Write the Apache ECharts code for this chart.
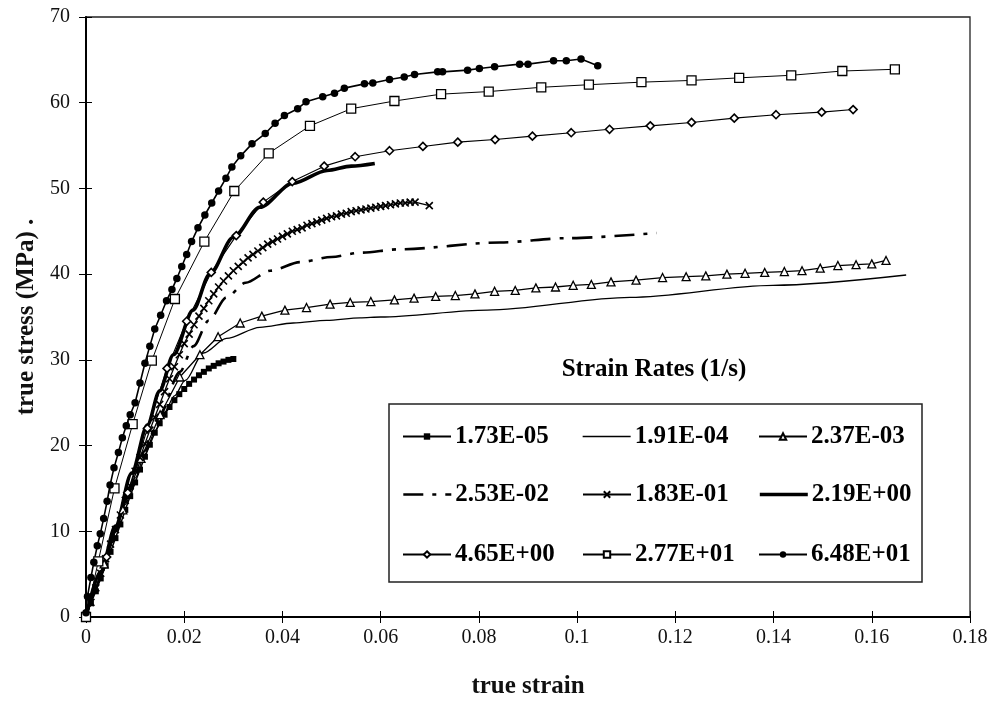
<!DOCTYPE html>
<html>
<head>
<meta charset="utf-8">
<script src="https://cdn.jsdelivr.net/npm/echarts@6/dist/echarts.min.js"></script>
<style>
html,body{margin:0;padding:0;background:#fff;}
#chart{width:995px;height:704px;}
</style>
</head>
<body>
<div id="chart"></div>
<script>
// ---- data (true strain, true stress MPa) ----
const seriesNames = ['1.73E-05','1.91E-04','2.37E-03','2.53E-02','1.83E-01','2.19E+00','4.65E+00','2.77E+01','6.48E+01'];

const rate173e5 = [[0,0.3],[0.001,1.6],[0.002,3.0],[0.003,4.5],[0.004,6.0],[0.005,7.6],[0.006,9.2],[0.007,10.8],[0.008,12.5],[0.009,14.1],[0.010,15.7],[0.011,17.2],[0.012,18.7],[0.013,20.1],[0.014,21.5],[0.015,22.6],[0.016,23.6],[0.017,24.5],[0.018,25.3],[0.019,26.0],[0.020,26.6],[0.021,27.2],[0.022,27.7],[0.023,28.2],[0.024,28.6],[0.025,29.0],[0.026,29.3],[0.027,29.6],[0.028,29.8],[0.029,30.0],[0.030,30.1]];

const rate191e4 = [[0,0],[0.002,3.3],[0.004,6.6],[0.006,9.9],[0.008,13.1],[0.010,16.2],[0.012,19.0],[0.014,21.6],[0.016,23.9],[0.018,25.8],[0.0202,27.6],[0.0239,30.8],[0.0286,32.5],[0.0354,33.8],[0.0422,34.3],[0.049,34.6],[0.0558,34.9],[0.06,35.0],[0.0817,35.8],[0.1108,37.3],[0.1399,38.7],[0.167,39.9]];

const rate237e3 = [[0,0],[0.0037,6.2],[0.0075,12.5],[0.0112,18.5],[0.0151,23.6],[0.0191,28.0],[0.0232,30.6],[0.0269,32.7],[0.0314,34.3],[0.0358,35.1],[0.0405,35.8],[0.0449,36.1],[0.0497,36.5],[0.0538,36.7],[0.058,36.8],[0.0628,37.0],[0.0668,37.2],[0.0712,37.4],[0.0752,37.5],[0.0792,37.7],[0.0832,38.0],[0.0874,38.1],[0.0916,38.4],[0.0956,38.5],[0.0992,38.7],[0.1029,38.8],[0.1069,39.1],[0.112,39.3],[0.1174,39.6],[0.1222,39.7],[0.1262,39.8],[0.1305,40.0],[0.1342,40.1],[0.1382,40.2],[0.1422,40.3],[0.1458,40.4],[0.1495,40.7],[0.1531,41.0],[0.1568,41.1],[0.16,41.2],[0.1629,41.6]];

const rate253e2 = [[0,0],[0.003,5.0],[0.006,10.0],[0.009,14.8],[0.012,19.4],[0.015,23.6],[0.0191,28.6],[0.0219,31.6],[0.025,34.6],[0.0286,37.3],[0.0325,39.0],[0.0375,40.4],[0.0436,41.4],[0.05,42.0],[0.0558,42.5],[0.0639,42.9],[0.0843,43.7],[0.0979,44.2],[0.1162,44.8]];

const rate183e1 = [[0,0],[0.001,1.7],[0.002,3.4],[0.003,5.1],[0.004,6.8],[0.005,8.5],[0.006,10.2],[0.007,11.9],[0.008,13.6],[0.009,15.3],[0.010,17.0],[0.011,18.6],[0.012,20.2],[0.013,21.8],[0.014,23.3],[0.015,24.8],[0.016,26.3],[0.017,27.8],[0.018,29.2],[0.019,30.6],[0.020,31.9],[0.021,33.0],[0.022,34.1],[0.023,35.1],[0.024,36.0],[0.025,36.9],[0.026,37.7],[0.027,38.5],[0.028,39.2],[0.029,39.8],[0.030,40.4],[0.031,40.9],[0.032,41.4],[0.033,41.9],[0.034,42.3],[0.035,42.7],[0.036,43.1],[0.037,43.5],[0.038,43.8],[0.039,44.1],[0.040,44.4],[0.041,44.7],[0.042,45.0],[0.043,45.2],[0.044,45.4],[0.045,45.7],[0.046,45.9],[0.047,46.1],[0.048,46.3],[0.049,46.5],[0.050,46.7],[0.051,46.8],[0.052,47.0],[0.053,47.1],[0.054,47.3],[0.055,47.4],[0.056,47.5],[0.057,47.6],[0.058,47.7],[0.059,47.8],[0.060,47.9],[0.061,48.0],[0.062,48.1],[0.063,48.2],[0.064,48.3],[0.065,48.3],[0.066,48.4],[0.067,48.4],[0.0699,48.0]];

const rate219e0 = [[0,0],[0.003,5.3],[0.006,10.6],[0.0093,16.8],[0.0125,22.4],[0.015,26.4],[0.0178,30.6],[0.0218,35.8],[0.0252,40.0],[0.03,44.3],[0.0354,47.8],[0.0421,50.6],[0.0491,52.1],[0.054,52.6],[0.0588,52.9]];

const rate465e0 = [[0,0],[0.0042,7.0],[0.0085,14.5],[0.0125,22.0],[0.0165,29.0],[0.0205,34.5],[0.0255,40.2],[0.0306,44.5],[0.0361,48.4],[0.042,50.8],[0.0485,52.6],[0.0548,53.7],[0.0618,54.4],[0.0686,54.9],[0.0757,55.4],[0.0833,55.7],[0.0909,56.1],[0.0988,56.5],[0.1066,56.9],[0.1149,57.3],[0.1233,57.7],[0.132,58.2],[0.1405,58.6],[0.1498,58.9],[0.1562,59.2]];

const rate277e1 = [[0,0],[0.0025,6.5],[0.0058,15.0],[0.0095,22.5],[0.0134,29.9],[0.0181,37.1],[0.0241,43.8],[0.0302,49.7],[0.0372,54.1],[0.0456,57.3],[0.054,59.3],[0.0628,60.2],[0.0723,61.0],[0.082,61.3],[0.0927,61.8],[0.1024,62.1],[0.1131,62.4],[0.1233,62.6],[0.133,62.9],[0.1436,63.2],[0.154,63.7],[0.1647,63.9]];

const rate648e1 = [[0,0.5],[0.0003,2.4],[0.001,4.6],[0.0016,6.4],[0.0023,8.3],[0.0029,9.7],[0.0036,11.5],[0.0043,13.5],[0.0049,15.4],[0.0057,17.4],[0.0066,19.2],[0.0074,20.9],[0.0082,22.3],[0.009,23.6],[0.01,25.0],[0.011,27.3],[0.012,29.6],[0.013,31.6],[0.014,33.6],[0.0152,35.2],[0.0164,36.9],[0.0175,38.2],[0.0185,39.5],[0.0195,40.9],[0.0205,42.3],[0.0215,43.8],[0.0228,45.4],[0.0242,46.9],[0.0256,48.3],[0.027,49.7],[0.0285,51.2],[0.0297,52.5],[0.0315,53.8],[0.0338,55.2],[0.0365,56.4],[0.0385,57.6],[0.0404,58.5],[0.0431,59.3],[0.0448,60.1],[0.0482,60.7],[0.0506,61.1],[0.0526,61.7],[0.0567,62.2],[0.0584,62.3],[0.0618,62.7],[0.0648,63.0],[0.0669,63.3],[0.0716,63.6],[0.0726,63.6],[0.0777,63.8],[0.0801,64.0],[0.0832,64.2],[0.0883,64.5],[0.09,64.5],[0.0952,64.9],[0.0978,64.9],[0.1008,65.1],[0.1042,64.3]];

const xTitle = 'true strain';
const yTitle = 'true stress (MPa) .';
const legendTitle = 'Strain Rates (1/s)';

// ---- styling ----
const FONT = '"Liberation Serif","Times New Roman",serif';
const K = '#000';
const crossPath = 'path://M0,0L10,10M10,0L0,10';

function lineSeries(name, data, opts) {
  return Object.assign({
    name: name, type: 'line', data: data, xAxisIndex: 0, yAxisIndex: 0,
    showSymbol: true, showAllSymbol: true, animation: false, silent: true,
    lineStyle: {color: K, width: 1.2},
    itemStyle: {color: K, borderColor: K, borderWidth: 1},
    emphasis: {disabled: true}
  }, opts);
}

const series = [
  lineSeries(seriesNames[0], rate173e5, {symbol: 'rect', symbolSize: 6, lineStyle: {color: K, width: 1.5}, itemStyle: {color: K, borderColor: K, borderWidth: 0}}),
  lineSeries(seriesNames[1], rate191e4, {symbol: 'none', smooth: 0.3, smoothMonotone: 'x', lineStyle: {color: K, width: 1.3}}),
  lineSeries(seriesNames[2], rate237e3, {symbol: 'triangle', symbolSize: 8, lineStyle: {color: K, width: 1.3}, itemStyle: {color: '#fff', borderColor: K, borderWidth: 1.3}}),
  lineSeries(seriesNames[3], rate253e2, {symbol: 'none', smooth: 0.3, smoothMonotone: 'x', lineStyle: {color: K, width: 2.6, type: [20, 9, 4, 9]}}),
  lineSeries(seriesNames[4], rate183e1, {symbol: crossPath, symbolSize: 7, lineStyle: {color: K, width: 1.3}, itemStyle: {color: 'none', borderColor: K, borderWidth: 1.6}}),
  lineSeries(seriesNames[5], rate219e0, {symbol: 'none', smooth: 0.3, smoothMonotone: 'x', lineStyle: {color: K, width: 3.6}}),
  lineSeries(seriesNames[6], rate465e0, {symbol: 'diamond', symbolSize: 8, lineStyle: {color: K, width: 1.1}, itemStyle: {color: '#fff', borderColor: K, borderWidth: 1.6}}),
  lineSeries(seriesNames[7], rate277e1, {symbol: 'rect', symbolSize: 9, lineStyle: {color: K, width: 1.0}, itemStyle: {color: '#fff', borderColor: K, borderWidth: 1.3}}),
  lineSeries(seriesNames[8], rate648e1, {symbol: 'circle', symbolSize: 7.5, lineStyle: {color: K, width: 1.6}, itemStyle: {color: K, borderColor: K, borderWidth: 0}})
];

// legend: 3 columns x 3 rows, one legend component per entry
const legendCols = [402, 582, 758];
const legendRows = [437, 495, 555];
const legends = [];
seriesNames.forEach(function (n, i) {
  const c = i % 3, r = Math.floor(i / 3);
  const s = series[i];
  const item = {name: n};
  if (s.symbol === 'none') {
    item.itemStyle = {color: 'rgba(0,0,0,0)', borderColor: 'rgba(0,0,0,0)', borderWidth: 0, opacity: 0};
    item.lineStyle = {width: s.lineStyle.width, color: K, type: s.lineStyle.type || 'solid'};
  }
  legends.push({
    data: [item], left: legendCols[c], top: legendRows[r] - 13,
    itemWidth: 48, itemHeight: 8, selectedMode: false, padding: 0,
    textStyle: {fontFamily: FONT, fontSize: 25, fontWeight: 'bold', color: K, padding: [0, 0, 0, -1]}
  });
});

const axisFont = {fontFamily: FONT, fontSize: 20, color: '#111'};
const nameFont = {fontFamily: FONT, fontSize: 25, fontWeight: 'bold', color: '#111'};

const option = {
  backgroundColor: '#fff',
  animation: false,
  grid: {left: 86, right: 25, top: 17, bottom: 87, show: true, borderColor: '#222', borderWidth: 1.3, backgroundColor: 'transparent'},
  legend: legends,
  xAxis: [
    {type: 'value', min: 0, max: 0.18, interval: 0.02, position: 'bottom',
     name: xTitle, nameLocation: 'middle', nameGap: 57, nameTextStyle: nameFont,
     axisLine: {lineStyle: {color: K, width: 2}},
     axisTick: {length: 6, lineStyle: {color: K, width: 1}},
     axisLabel: Object.assign({margin: 11}, axisFont),
     splitLine: {show: false}},
    {type: 'value', min: 0, max: 0.18, interval: 0.02, position: 'bottom',
     axisLine: {show: false}, axisTick: {inside: true, length: 6, lineStyle: {color: K, width: 1}},
     axisLabel: {show: false}, splitLine: {show: false}}
  ],
  yAxis: [
    {type: 'value', min: 0, max: 70, interval: 10, position: 'left',
     name: yTitle, nameLocation: 'middle', nameGap: 47, nameTextStyle: nameFont,
     axisLine: {lineStyle: {color: K, width: 2}},
     axisTick: {length: 7, lineStyle: {color: K, width: 1}},
     axisLabel: Object.assign({margin: 16}, axisFont),
     splitLine: {show: false}},
    {type: 'value', min: 0, max: 70, interval: 10, position: 'left',
     axisLine: {show: false}, axisTick: {inside: true, length: 6, lineStyle: {color: K, width: 1}},
     axisLabel: {show: false}, splitLine: {show: false}}
  ],
  graphic: [
    {type: 'rect', shape: {x: 389, y: 404, width: 533, height: 178}, style: {fill: 'none', stroke: '#222', lineWidth: 1.5}, silent: true, z: 0},
    {type: 'text', x: 654, y: 370, style: {text: legendTitle, fill: K, font: 'bold 25px ' + FONT, textAlign: 'center', textVerticalAlign: 'middle'}, silent: true}
  ],
  series: series
};

const chart = echarts.init(document.getElementById('chart'), null, {renderer: 'canvas'});
chart.setOption(option);
</script>
</body>
</html>
